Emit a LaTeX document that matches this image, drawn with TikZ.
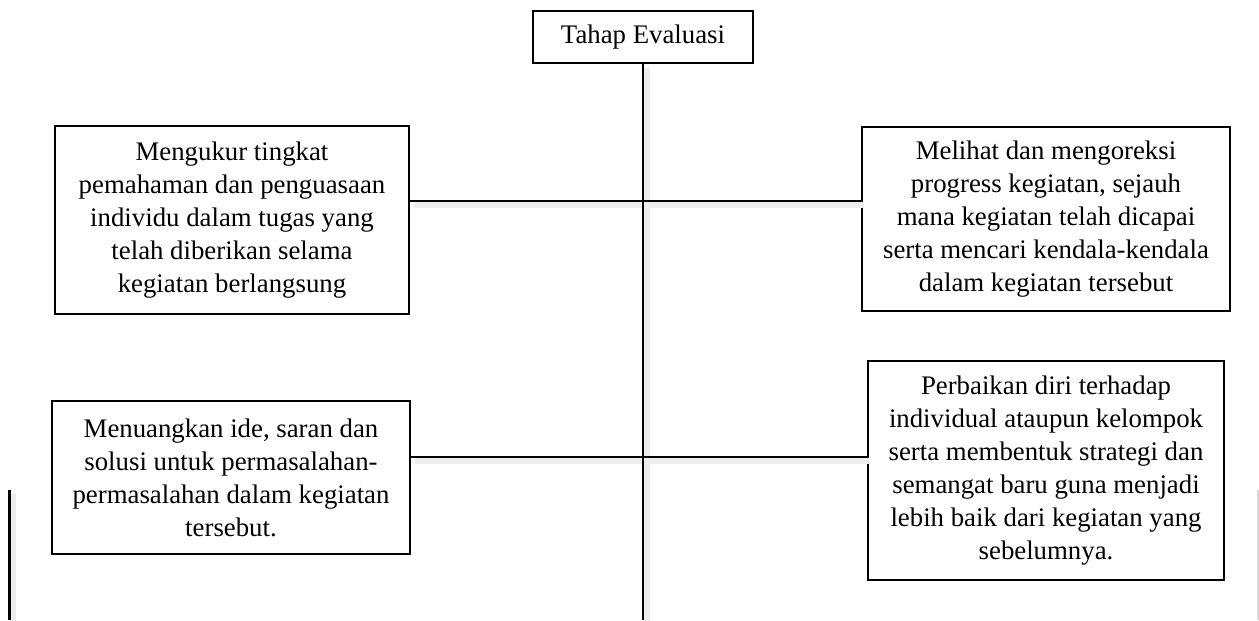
\documentclass[tikz,border=0pt]{standalone}
\usepackage{fontspec}
\setmainfont{Liberation Serif}
\usepackage{tikz}
\newcommand{\upx}{0.418pt}

\begin{document}
\begin{tikzpicture}[x=\upx,y=-\upx,
  kotak/.style={draw,line width=2.6*\upx,inner sep=0pt,align=center,fill=white,
    font=\fontsize{11.2}{13.8}\selectfont},
  garis/.style={line width=2.6*\upx},
  bayang/.style={draw=black!7,line width=6*\upx,transform canvas={shift={(3.5,3.5)}}}]
\useasboundingbox (0,0) rectangle (1259,620);
\coordinate (poros) at (643,620);
\coordinate (cabang1) at (643,201);
\coordinate (cabang2) at (643,457);
\coordinate (sisa1) at (9.5,490);
\coordinate (sisa2) at (1257.5,490);
\node[kotak,minimum width=220*\upx,minimum height=52*\upx] (evaluasi) at (643,37) {Tahap Evaluasi};
\node[kotak,minimum width=354*\upx,minimum height=188*\upx] (kiri1) at (232,220)
  {Mengukur tingkat\\pemahaman dan penguasaan\\individu dalam tugas yang\\telah diberikan selama\\kegiatan berlangsung};
\node[kotak,minimum width=368*\upx,minimum height=184*\upx] (kanan1) at (1046,219)
  {Melihat dan mengoreksi\\progress kegiatan, sejauh\\mana kegiatan telah dicapai\\serta mencari kendala-kendala\\dalam kegiatan tersebut};
\node[kotak,minimum width=358*\upx,minimum height=153*\upx] (kiri2) at (231,477.5)
  {Menuangkan ide, saran dan\\solusi untuk permasalahan-\\permasalahan dalam kegiatan\\tersebut.};
\node[kotak,minimum width=356*\upx,minimum height=219*\upx] (kanan2) at (1046,470.5)
  {Perbaikan diri terhadap\\individual ataupun kelompok\\serta membentuk strategi dan\\semangat baru guna menjadi\\lebih baik dari kegiatan yang\\sebelumnya.};
% bayangan garis
\draw[bayang] (evaluasi.south) -- (evaluasi.south |- poros);
\draw[bayang] (kiri1.east |- cabang1) -- (kanan1.west |- cabang1);
\draw[bayang] (kiri2.east |- cabang2) -- (kanan2.west |- cabang2);
\draw[bayang] (sisa1) -- (sisa1 |- poros);
% garis penghubung
\draw[garis] (evaluasi.south) -- (evaluasi.south |- poros);
\draw[garis] (kiri1.east |- cabang1) -- (kanan1.west |- cabang1);
\draw[garis] (kiri2.east |- cabang2) -- (kanan2.west |- cabang2);
\draw[garis] (sisa1) -- (sisa1 |- poros);
\draw[draw=black!15,line width=2*\upx] (sisa2) -- (sisa2 |- poros);
\end{tikzpicture}
\end{document}
